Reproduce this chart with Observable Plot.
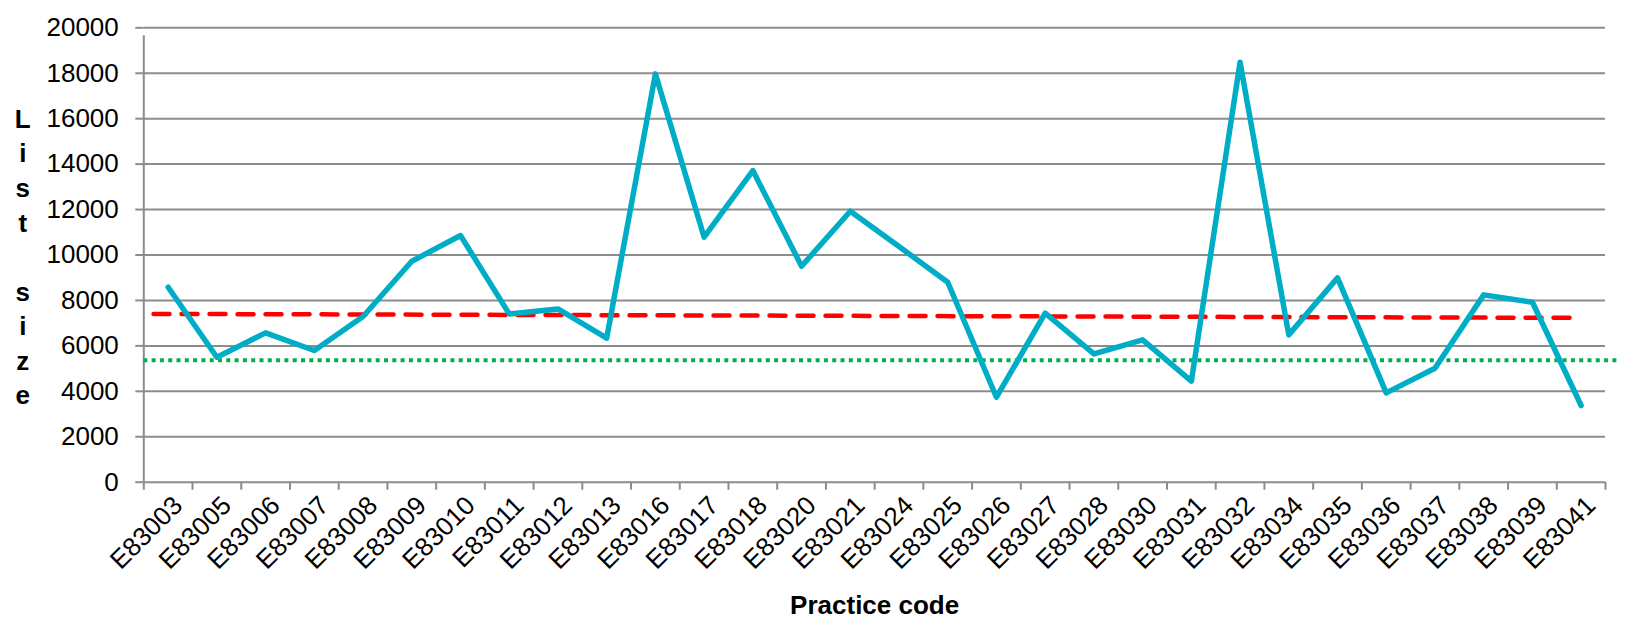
<!DOCTYPE html>
<html>
<head>
<meta charset="utf-8">
<script src="https://cdn.jsdelivr.net/npm/d3@7"></script>
<script src="https://cdn.jsdelivr.net/npm/@observablehq/plot@0.6"></script>
<style>
  html, body { margin: 0; padding: 0; background: #fff; }
  #chart { width: 1632px; height: 627px; }
  svg { font-family: "Liberation Sans", Arial, sans-serif; }
</style>
</head>
<body>
<div id="chart"></div>
<script>
// ---- data ----
const practiceCodes = ["E83003","E83005","E83006","E83007","E83008","E83009","E83010","E83011","E83012","E83013",
  "E83016","E83017","E83018","E83020","E83021","E83024","E83025","E83026","E83027","E83028",
  "E83030","E83031","E83032","E83034","E83035","E83036","E83037","E83038","E83039","E83041"];
const listSize = [8582,5501,6572,5795,7291,9726,10856,7408,7628,6337,
  17971,10782,13716,9506,11927,10372,8802,3741,7438,5648,
  6264,4445,18484,6484,8993,3932,5017,8245,7922,3374];
const trendValues = [7408, 7232];      // red dashed line, start and end
const trendIndex = [0.2, 29.5];        // category-index positions of its ends
const referenceValue = [5373];         // green dotted line
const yTicks = [0,2000,4000,6000,8000,10000,12000,14000,16000,18000,20000];

const series = practiceCodes.map((code, i) => ({code, i: i + 0.5, value: listSize[i]}));
const trend = trendValues.map((v, k) => ({i: trendIndex[k], value: v}));
const boundaries = d3.range(practiceCodes.length + 1);

const gridColor = "#8c8c8c";
const font = 26;

const chart = Plot.plot({
  width: 1632,
  height: 627,
  marginLeft: 143.3,
  marginRight: 27,
  marginTop: 27.3,
  marginBottom: 145.3,
  style: {fontFamily: '"Liberation Sans", Arial, sans-serif', fontSize: font + "px", color: "#000", background: "#fff", overflow: "visible"},
  x: {type: "linear", domain: [0, practiceCodes.length]},
  y: {domain: [0, 20000]},
  marks: [
    // horizontal gridlines (including the baseline)
    Plot.ruleY(yTicks, {stroke: gridColor, strokeWidth: 2}),
    // vertical axis line
    Plot.ruleX([0], {y1: 0, y2: 20000, stroke: gridColor, strokeWidth: 2, insetBottom: -8}),
    // y axis ticks & labels
    Plot.axisY({ticks: yTicks, tickSize: 8, tickPadding: 17, stroke: gridColor, strokeWidth: 2, fontSize: font, label: null, tickFormat: d => String(d)}),
    // x axis tick marks at category boundaries
    Plot.axisX({ticks: boundaries, tickSize: 8, stroke: gridColor, strokeWidth: 2, tickFormat: () => "", label: null}),
    // x category labels rotated
    Plot.text(series, {x: "i", y: () => 0, text: "code", rotate: -45, textAnchor: "end", dx: 10, dy: 19, fontSize: font, fill: "#000"}),
    // reference (green dotted)
    Plot.ruleY(referenceValue, {stroke: "#00b050", strokeWidth: 4, strokeDasharray: "4,4.3", insetRight: -15}),
    // trend (red dashed)
    Plot.line(trend, {x: "i", y: "value", stroke: "#ff0000", strokeWidth: 4.5, strokeDasharray: "16,12"}),
    // main series
    Plot.line(series, {x: "i", y: "value", stroke: "#00adc6", strokeWidth: 5.5, strokeLinejoin: "round", strokeLinecap: "round"}),
    // axis titles
    Plot.text(["L\ni\ns\nt\n\ns\ni\nz\ne"], {frameAnchor: "left", dx: -121, dy: 0, text: d => d, lineHeight: 1.33, fontWeight: "bold", fontSize: font, textAnchor: "middle", fill: "#000"}),
    Plot.text(["Practice code"], {frameAnchor: "bottom", dy: 132, text: d => d, fontWeight: "bold", fontSize: font, textAnchor: "middle", fill: "#000"})
  ]
});
document.getElementById("chart").appendChild(chart);
</script>
</body>
</html>
